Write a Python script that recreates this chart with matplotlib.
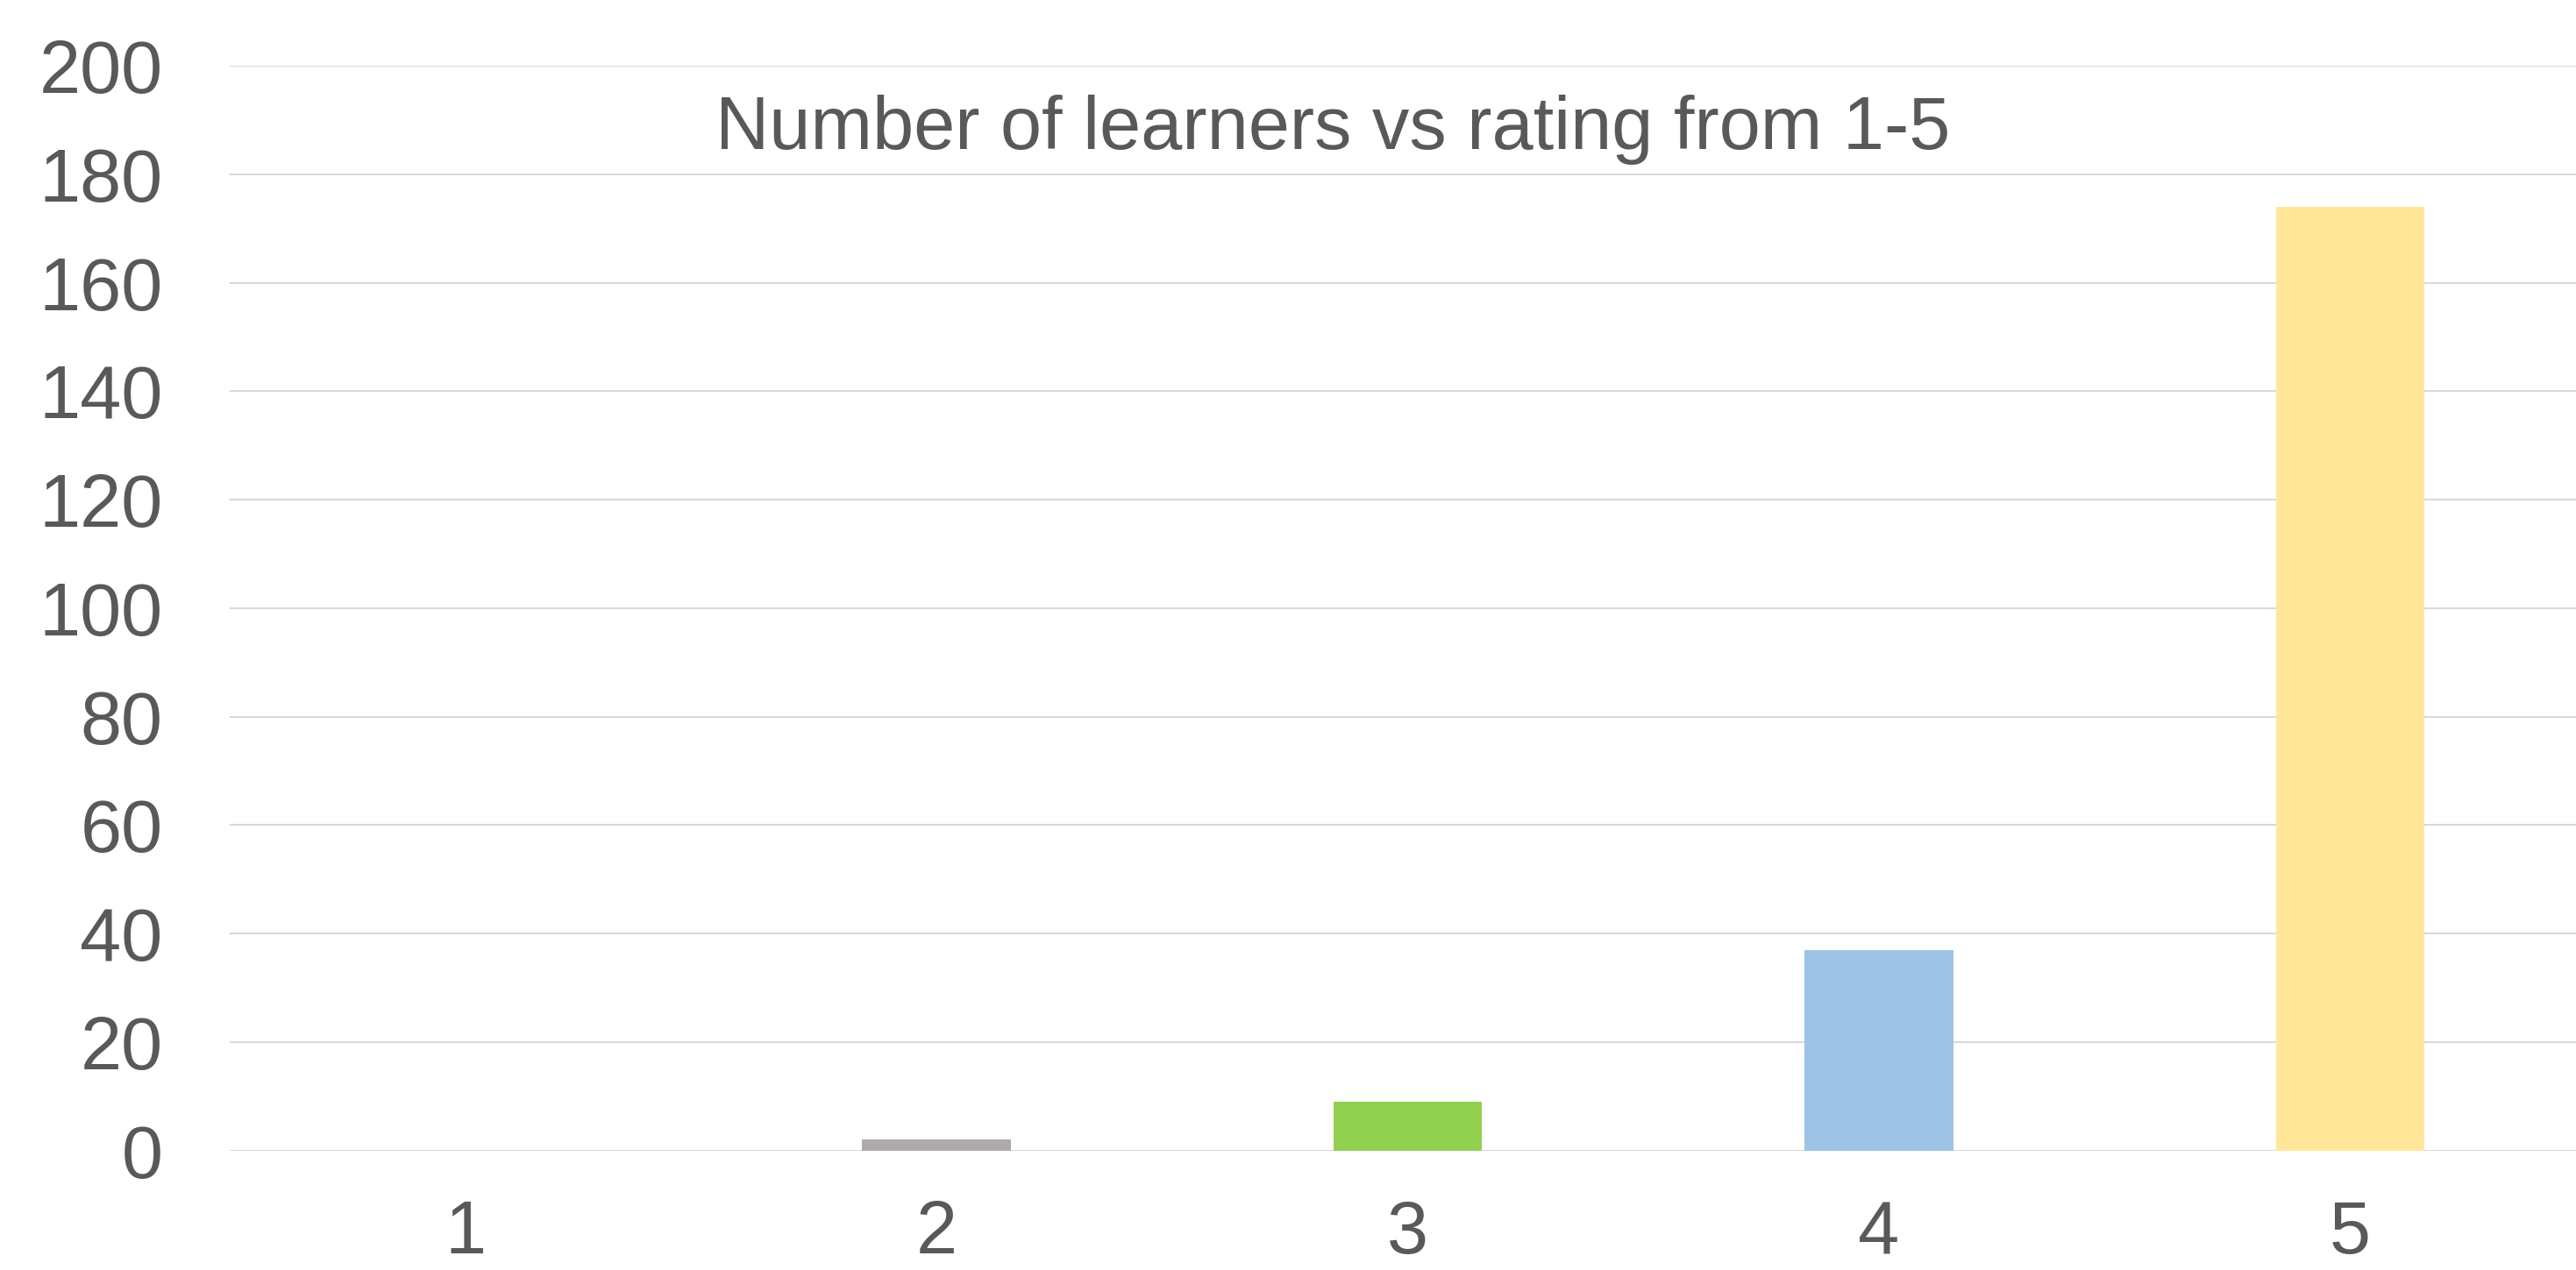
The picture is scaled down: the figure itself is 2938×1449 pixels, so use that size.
import matplotlib
matplotlib.use("Agg")
import matplotlib.pyplot as plt

# datos
ratings = ["1", "2", "3", "4", "5"]
learners = [0, 2, 9, 37, 174]
colores = ["#5B9BD5", "#AEAAAA", "#92D050", "#9DC3E6", "#FFE699"]
yticks = [0, 20, 40, 60, 80, 100, 120, 140, 160, 180, 200]

plt.rcParams["font.family"] = ["Liberation Sans", "DejaVu Sans"]
gris = "#595959"

fig = plt.figure(figsize=(29.38, 14.49), dpi=100)
# el area del grafico se sale un poco por la derecha, como en el original
ax = fig.add_axes([262 / 2938, 136.3 / 1449, 2687 / 2938, 1237.7 / 1449])

x = range(1, len(ratings) + 1)
ax.bar(x, learners, width=0.315, color=colores, zorder=3)

ax.set_xlim(0.5, 5.5)
ax.set_ylim(0, 200)
ax.set_xticks(list(x))
ax.set_xticklabels(ratings)
ax.set_yticks(yticks)
ax.tick_params(axis="both", length=0, labelsize=61, labelcolor=gris)
ax.tick_params(axis="y", pad=55)
ax.tick_params(axis="x", pad=40)  # un poco mas arriba para que no se corte abajo

ax.grid(axis="y", color="#D9D9D9", linewidth=1.45, zorder=0)
for s in ax.spines.values():
    s.set_visible(False)

fig.text(1520 / 2938, 1279 / 1449, "Number of learners vs rating from 1-5",
         ha="center", va="baseline", fontsize=61, color=gris)

fig.savefig("out.png", dpi=100)
